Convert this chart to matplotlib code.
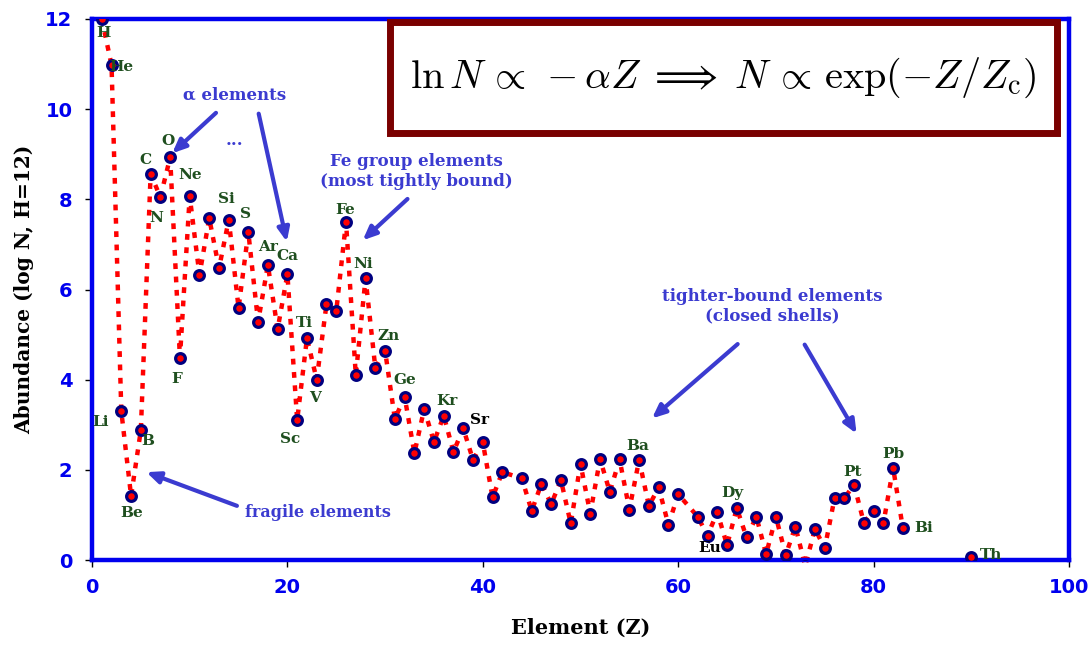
import matplotlib
matplotlib.use("Agg")
import matplotlib.pyplot as plt
import matplotlib.patches as patches

# solar system abundances, log N with H = 12
symbols = ["H", "He", "Li", "Be", "B", "C", "N", "O", "F", "Ne",
           "Na", "Mg", "Al", "Si", "P", "S", "Cl", "Ar", "K", "Ca",
           "Sc", "Ti", "V", "Cr", "Mn", "Fe", "Co", "Ni", "Cu", "Zn",
           "Ga", "Ge", "As", "Se", "Br", "Kr", "Rb", "Sr", "Y", "Zr",
           "Nb", "Mo", "Ru", "Rh", "Pd", "Ag", "Cd", "In", "Sn", "Sb",
           "Te", "I", "Xe", "Cs", "Ba", "La", "Ce", "Pr", "Nd", "Sm",
           "Eu", "Gd", "Tb", "Dy", "Ho", "Er", "Tm", "Yb", "Lu", "Hf",
           "Ta", "W", "Re", "Os", "Ir", "Pt", "Au", "Hg", "Tl", "Pb",
           "Bi", "Th"]
z = list(range(1, 43)) + list(range(44, 61)) + list(range(62, 84)) + [90]
log_n = [12.00, 10.98, 3.30, 1.42, 2.88, 8.56, 8.05, 8.93, 4.48, 8.07,
         6.32, 7.58, 6.47, 7.55, 5.59, 7.27, 5.28, 6.54, 5.12, 6.34,
         3.10, 4.92, 4.00, 5.67, 5.52, 7.50, 4.10, 6.25, 4.26, 4.64,
         3.13, 3.62, 2.37, 3.35, 2.62, 3.20, 2.40, 2.92, 2.22, 2.61,
         1.39, 1.95, 1.81, 1.09, 1.69, 1.24, 1.77, 0.81, 2.13, 1.03,
         2.24, 1.51, 2.23, 1.12, 2.22, 1.20, 1.61, 0.78, 1.46, 0.96,
         0.54, 1.06, 0.33, 1.15, 0.50, 0.96, 0.13, 0.96, 0.11, 0.74,
         -0.13, 0.69, 0.26, 1.37, 1.37, 1.67, 0.83, 1.09, 0.81, 2.04,
         0.70, 0.07]

# labelled elements: symbol, offset in pixels (x, y up)
labelled = ["H", "He", "Li", "Be", "B", "C", "N", "O", "F", "Ne", "Si", "S",
            "Ar", "Ca", "Sc", "Ti", "V", "Fe", "Ni", "Zn", "Ge", "Kr", "Sr",
            "Ba", "Dy", "Eu", "Pt", "Pb", "Bi", "Th"]
offsets = {"H": (2, -14), "He": (10, -2), "Li": (-21, -11), "Be": (1, -17),
           "B": (7, -11), "C": (-5, 14), "N": (-4, -21), "O": (-2, 16),
           "F": (-3, -21), "Ne": (0, 21), "Si": (-2, 21), "S": (-3, 18),
           "Ar": (0, 18), "Ca": (0, 18), "Sc": (-7, -19), "Ti": (-3, 15),
           "V": (-2, -18), "Fe": (-1, 12), "Ni": (-2, 14), "Zn": (3, 15),
           "Ge": (0, 17), "Kr": (3, 15), "Sr": (16, 8), "Ba": (-1, 14),
           "Dy": (-4, 15), "Eu": (2, -12), "Pt": (-2, 13), "Pb": (0, 14),
           "Bi": (21, 0), "Th": (20, 2)}
black_labels = ["Sr", "Eu"]

blue = "#3b3bd0"
green = "#1f4f1f"

plt.rcParams["mathtext.fontset"] = "cm"
fig = plt.figure(figsize=(10.91, 6.51), dpi=100)
ax = fig.add_axes([92 / 1091, 91 / 651, 977 / 1091, 541 / 651])

n_line = z.index(83) + 1
ax.plot(z[:n_line], log_n[:n_line], color="red", lw=3.2,
        linestyle=(0, (1.3, 1.7)), clip_on=False, zorder=2)
ax.plot(z, log_n, "o", ms=7, mfc="red", mec="#000080", mew=2.3, zorder=3)

for s in labelled:
    i = symbols.index(s)
    c = "black" if s in black_labels else green
    ax.annotate(s, (z[i], log_n[i]), xytext=offsets[s], textcoords="offset pixels",
                ha="center", va="center", fontsize=11, fontweight="bold",
                family="DejaVu Serif", color=c, zorder=4)

ax.set_xlim(0, 100)
ax.set_ylim(0, 12)
ax.set_xticks(range(0, 101, 20))
ax.set_yticks(range(0, 13, 2))
for sp in ax.spines.values():
    sp.set_color("#0000ee")
    sp.set_linewidth(3.2)
ax.tick_params(axis="both", direction="out", length=5, width=1, color="black",
               labelcolor="#0000ee", labelsize=14)
ax.tick_params(axis="x", pad=8)
ax.tick_params(axis="y", pad=9)
for t in ax.get_xticklabels() + ax.get_yticklabels():
    t.set_fontweight("bold")
ax.set_xlabel("Element (Z)", fontsize=15, fontweight="bold", family="DejaVu Serif",
              labelpad=15)
ax.set_ylabel("Abundance (log N, H=12)", fontsize=14.5, fontweight="bold",
              family="DejaVu Serif", labelpad=8)

ann = dict(fontsize=12, fontweight="bold", family="DejaVu Serif", color=blue,
           ha="center", va="center")
arr = dict(arrowstyle="-|>,head_length=0.8,head_width=0.35", lw=3, color=blue)

ax.text(14.6, 10.31, "α elements", **ann)
ax.text(14.6, 9.3, "...", **ann)
ax.annotate("", xy=(8.0, 8.98), xytext=(12.9, 9.96), arrowprops=arr)
ax.annotate("", xy=(20.0, 7.0), xytext=(17.0, 9.96), arrowprops=arr)

ax.text(33.2, 8.61, "Fe group elements\n(most tightly bound)", linespacing=1.25, **ann)
ax.annotate("", xy=(27.5, 7.05), xytext=(32.5, 8.05), arrowprops=arr)

ax.text(69.6, 5.63, "tighter-bound elements\n(closed shells)", linespacing=1.25, **ann)
ax.annotate("", xy=(57.1, 3.10), xytext=(66.3, 4.83), arrowprops=arr)
ax.annotate("", xy=(78.4, 2.75), xytext=(72.8, 4.83), arrowprops=arr)

ax.text(15.7, 1.06, "fragile elements", **{**ann, "ha": "left", "fontsize": 11.5})
ax.annotate("", xy=(5.3, 1.97), xytext=(15.1, 1.18), arrowprops=arr)

# equation box
box = patches.Rectangle((390 / 1091, 518 / 651), 667 / 1091, 111 / 651,
                        transform=fig.transFigure, facecolor="white",
                        edgecolor="#7a0000", lw=5, zorder=5)
fig.patches.append(box)
fig.text(723 / 1091, 573 / 651,
         r"$\ln N\,\propto\,-\alpha Z\;\Longrightarrow\;N\,\propto\,\exp(-Z/Z_{\rm c})$",
         ha="center", va="center", fontsize=29, zorder=6)

fig.savefig("out.png", dpi=100)
